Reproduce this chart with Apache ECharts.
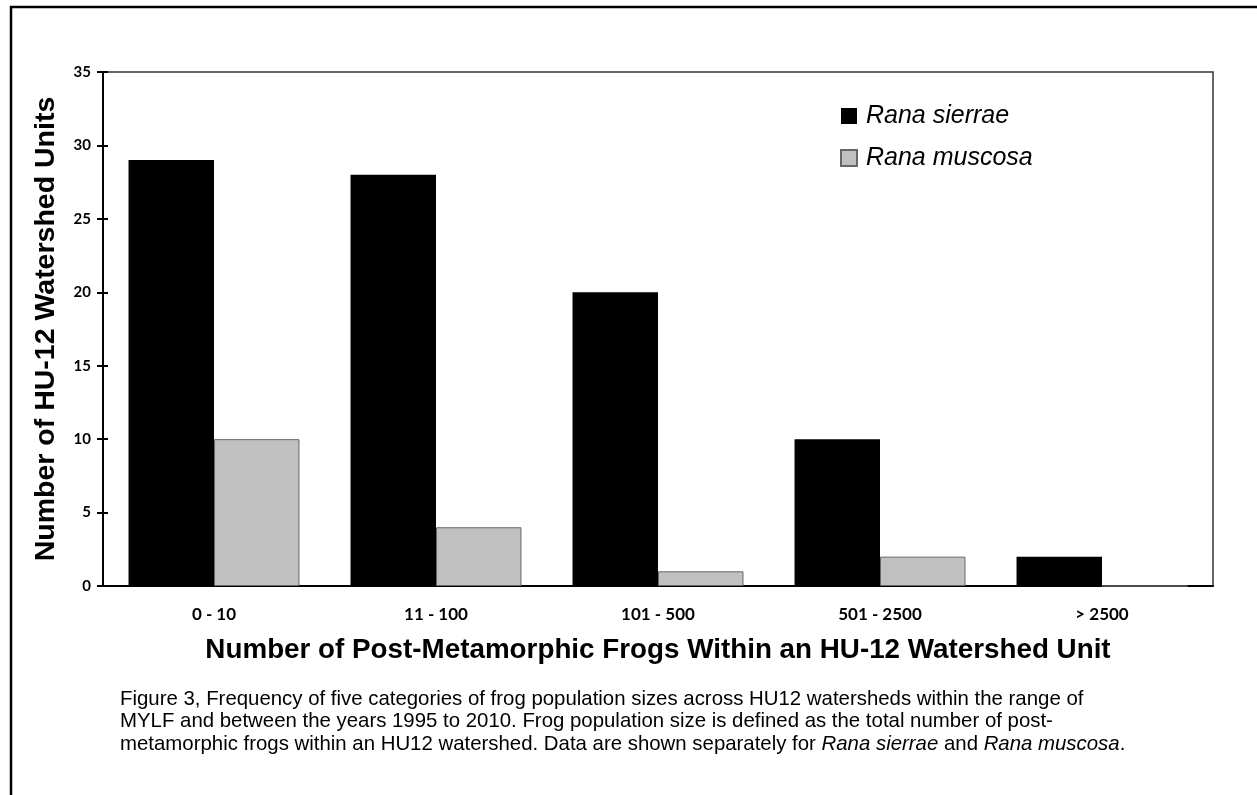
<!DOCTYPE html>
<html>
<head>
<meta charset="utf-8">
<script src="https://cdn.jsdelivr.net/npm/echarts@6/dist/echarts.min.js"></script>
<style>
  html, body { margin: 0; padding: 0; background: #fff; }
  #main { width: 1257px; height: 795px; }
</style>
</head>
<body>
<div id="main"></div>
<script>
// population size classes
var categories = ['0 - 10', '11 - 100', '101 - 500', '501 - 2500', '> 2500'];
var sierrae = [29, 28, 20, 10, 2];
var muscosa = [10, 4, 1, 2, 0];
var yMin = 0, yMax = 35, yStep = 5;

var chart = echarts.init(document.getElementById('main'));

var caption = 'Figure 3, Frequency of five categories of frog population sizes across HU12 watersheds within the range of\n' +
  'MYLF and between the years 1995 to 2010. Frog population size is defined as the total number of post-\n' +
  'metamorphic frogs within an HU12 watershed. Data are shown separately for {i|Rana sierrae} and {i|Rana muscosa}.';

var tickFont = { fontFamily: 'Lato', fontWeight: 'bold', color: '#000' };

chart.setOption({
  animation: false,
  backgroundColor: '#fff',
  grid: {
    left: 103, top: 72, right: 44, bottom: 209,
    show: true, borderColor: '#333', borderWidth: 1.5
  },
  legend: {
    orient: 'vertical',
    left: 840, top: 103,
    padding: 0,
    itemWidth: 16, itemHeight: 16,
    itemGap: 16,
    icon: 'rect',
    textStyle: { fontFamily: 'Liberation Sans', fontStyle: 'italic', fontSize: 25, color: '#000', lineHeight: 26, padding: [0, 0, 0, 4] },
    data: ['Rana sierrae', 'Rana muscosa']
  },
  xAxis: [{
    type: 'category',
    data: categories,
    name: 'Number of Post-Metamorphic Frogs Within an HU-12 Watershed Unit',
    nameLocation: 'middle',
    nameGap: 50,
    nameTextStyle: { fontFamily: 'Liberation Sans', fontWeight: 'bold', fontSize: 27.8, color: '#000', verticalAlign: 'top' },
    axisLine: { lineStyle: { color: '#000', width: 2 } },
    axisTick: { length: 7, lineStyle: { color: '#000', width: 2 } },
    axisLabel: Object.assign({ fontSize: 17, margin: 20 }, tickFont),
    splitLine: { show: false }
  }, {
    // inner half of the crossing ticks
    type: 'category',
    data: categories,
    position: 'bottom',
    axisLine: { show: false },
    axisTick: { inside: true, length: 7, lineStyle: { color: '#000', width: 2 } },
    axisLabel: { show: false },
    splitLine: { show: false }
  }],
  yAxis: [{
    type: 'value',
    min: yMin, max: yMax, interval: yStep,
    name: 'Number of HU-12 Watershed Units',
    nameLocation: 'middle',
    nameGap: 42,
    nameTextStyle: { fontFamily: 'Liberation Sans', fontWeight: 'bold', fontSize: 28.5, color: '#000' },
    axisLine: { show: true, lineStyle: { color: '#000', width: 2 } },
    axisTick: { show: true, length: 6, lineStyle: { color: '#000', width: 2 } },
    axisLabel: Object.assign({ fontSize: 15, margin: 12 }, tickFont),
    splitLine: { show: false }
  }, {
    type: 'value',
    min: yMin, max: yMax, interval: yStep,
    position: 'left',
    axisLine: { show: false },
    axisTick: { show: true, inside: true, length: 5, lineStyle: { color: '#000', width: 2 } },
    axisLabel: { show: false },
    splitLine: { show: false }
  }],
  series: [{
    name: 'Rana sierrae',
    type: 'bar',
    data: sierrae,
    barGap: '0%',
    barCategoryGap: '23%',
    itemStyle: { color: '#000', borderColor: '#000', borderWidth: 0 }
  }, {
    name: 'Rana muscosa',
    type: 'bar',
    data: muscosa,
    itemStyle: { color: '#c0c0c0', borderColor: '#666', borderWidth: 1 }
  }],
  graphic: [{
    type: 'rect',
    shape: { x: 11, y: 7, width: 1400, height: 900 },
    style: { fill: 'none', stroke: '#000', lineWidth: 2.5 },
    silent: true
  }, {
    type: 'text',
    left: 120, top: 688,
    style: {
      text: caption,
      fontFamily: 'Liberation Sans',
      fontSize: 20.4,
      lineHeight: 22.5,
      fill: '#000',
      rich: {
        i: { fontFamily: 'Liberation Sans', fontStyle: 'italic', fontSize: 20.4, lineHeight: 22.5 }
      }
    }
  }]
});
</script>
</body>
</html>
